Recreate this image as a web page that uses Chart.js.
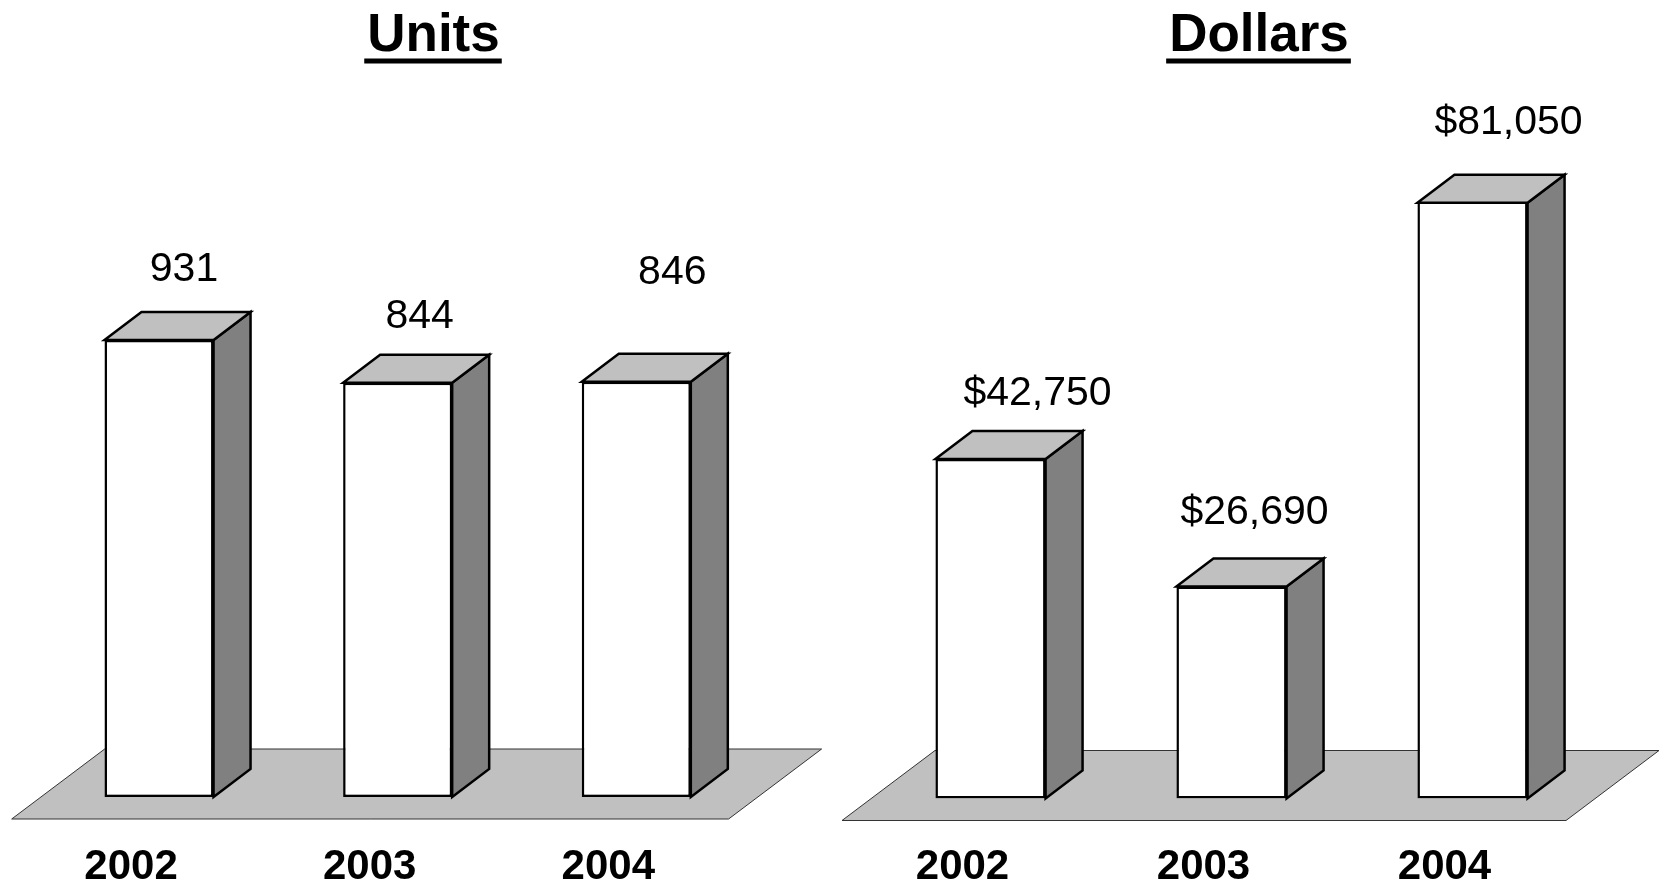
<!DOCTYPE html>
<html>
<head>
<meta charset="utf-8">
<script src="https://cdn.jsdelivr.net/npm/chart.js@4.4.0/dist/chart.umd.min.js"></script>
<style>
  html, body { margin: 0; padding: 0; background: #fff; overflow: hidden; }
  #wrap { position: relative; width: 1667px; height: 885px; overflow: hidden; }
  canvas { position: absolute; top: 0; }
  #units-chart { left: 0; }
  #dollars-chart { left: 833px; }
</style>
</head>
<body>
<div id="wrap">
  <canvas id="units-chart" width="833" height="940"></canvas>
  <canvas id="dollars-chart" width="834" height="940"></canvas>
</div>
<script>
const years = ["2002", "2003", "2004"];
const unitValues = [931, 844, 846];
const dollarValues = [42750, 26690, 81050];
const unitLabels = ["931", "844", "846"];
const dollarLabels = ["$42,750", "$26,690", "$81,050"];
const unitsMax = 1000;
const dollarsMax = 75000;

// label nudges (px) from the front-top centre of each bar
const unitNudge = [[25, -74], [22, -69], [36, -112]];
const dollarNudge = [[47, -69], [23, -77], [36, -83]];

const FONT = "'Liberation Sans', Arial, sans-serif";
const DEPTH_X = 37, DEPTH_Y = -28;

const bar3d = {
    id: "bar3d",
    beforeDatasetsDraw(chart) {
        // grey floor under the bars
        const { ctx, chartArea: a } = chart;
        const fy = a.bottom + 22;
        const x0 = a.left - 28, x1 = a.right - 27;
        ctx.save();
        ctx.beginPath();
        ctx.moveTo(x0, fy);
        ctx.lineTo(x1, fy);
        ctx.lineTo(x1 + 93, fy - 70);
        ctx.lineTo(x0 + 93, fy - 70);
        ctx.closePath();
        ctx.fillStyle = "#c0c0c0";
        ctx.fill();
        ctx.strokeStyle = "#333";
        ctx.lineWidth = 1;
        ctx.stroke();
        ctx.restore();
    },
    afterDatasetsDraw(chart, args, opts) {
        const { ctx, chartArea: a } = chart;
        const meta = chart.getDatasetMeta(0);
        ctx.save();
        ctx.lineWidth = 2.5;
        ctx.lineJoin = "miter";
        ctx.strokeStyle = "#000";
        meta.data.forEach((bar, i) => {
            const { x, y, base, width } = bar.getProps(["x", "y", "base", "width"], true);
            const l = x - width / 2, r = x + width / 2;
            const t = Math.max(y, a.top);

            // side
            ctx.beginPath();
            ctx.moveTo(r, t);
            ctx.lineTo(r + DEPTH_X, t + DEPTH_Y);
            ctx.lineTo(r + DEPTH_X, base + DEPTH_Y);
            ctx.lineTo(r, base);
            ctx.closePath();
            ctx.fillStyle = "#808080";
            ctx.fill();
            ctx.stroke();

            // top
            ctx.beginPath();
            ctx.moveTo(l, t);
            ctx.lineTo(l + DEPTH_X, t + DEPTH_Y);
            ctx.lineTo(r + DEPTH_X, t + DEPTH_Y);
            ctx.lineTo(r, t);
            ctx.closePath();
            ctx.fillStyle = "#c0c0c0";
            ctx.fill();
            ctx.stroke();

            // value label
            const n = opts.nudge[i];
            ctx.fillStyle = "#000";
            ctx.font = "41px " + FONT;
            ctx.textAlign = "center";
            ctx.textBaseline = "alphabetic";
            ctx.fillText(opts.labels[i], x + n[0], t + n[1] + 41 * 0.358);
        });

        // underlined title
        ctx.font = "bold 53px " + FONT;
        ctx.textAlign = "center";
        ctx.textBaseline = "alphabetic";
        ctx.fillStyle = "#000";
        ctx.fillText(opts.title, opts.titleX, 51);
        const w = ctx.measureText(opts.title).width;
        ctx.fillRect(opts.titleX - w / 2 - 3, 58.5, w + 5, 5);
        ctx.restore();
    }
};

function makeChart(id, values, max, labels, nudge, title, titleX, padding, tickPad) {
    return new Chart(document.getElementById(id), {
        type: "bar",
        data: {
            labels: years,
            datasets: [{
                data: values,
                backgroundColor: "#fff",
                borderColor: "#000",
                borderWidth: 2.5,
                borderSkipped: false,
                barPercentage: 0.457,
                categoryPercentage: 1
            }]
        },
        options: {
            responsive: false,
            animation: false,
            events: [],
            layout: { padding },
            scales: {
                x: {
                    grid: { display: false, drawTicks: false },
                    border: { display: false },
                    ticks: {
                        color: "#000",
                        font: { family: FONT, size: 42, weight: "bold", lineHeight: 1 },
                        padding: tickPad,
                        labelOffset: -28,
                        maxRotation: 0
                    }
                },
                y: { display: false, min: 0, max: max }
            },
            plugins: {
                legend: { display: false },
                tooltip: { enabled: false },
                bar3d: { labels, nudge, title, titleX }
            }
        },
        plugins: [bar3d]
    });
}

document.addEventListener("DOMContentLoaded", () => {
    // canvases run a little past the 885px window so the axis band fits
    makeChart("units-chart", unitValues, unitsMax, unitLabels, unitNudge, "Units", 433.5,
        { left: 39.7, right: 77.4, top: 306.1, bottom: 2 }, 49.5);
    makeChart("dollars-chart", dollarValues, dollarsMax, dollarLabels, dollarNudge, "Dollars", 426,
        { left: 37, right: 74, top: 202.7, bottom: 3.5 }, 48);
});
</script>
</body>
</html>
